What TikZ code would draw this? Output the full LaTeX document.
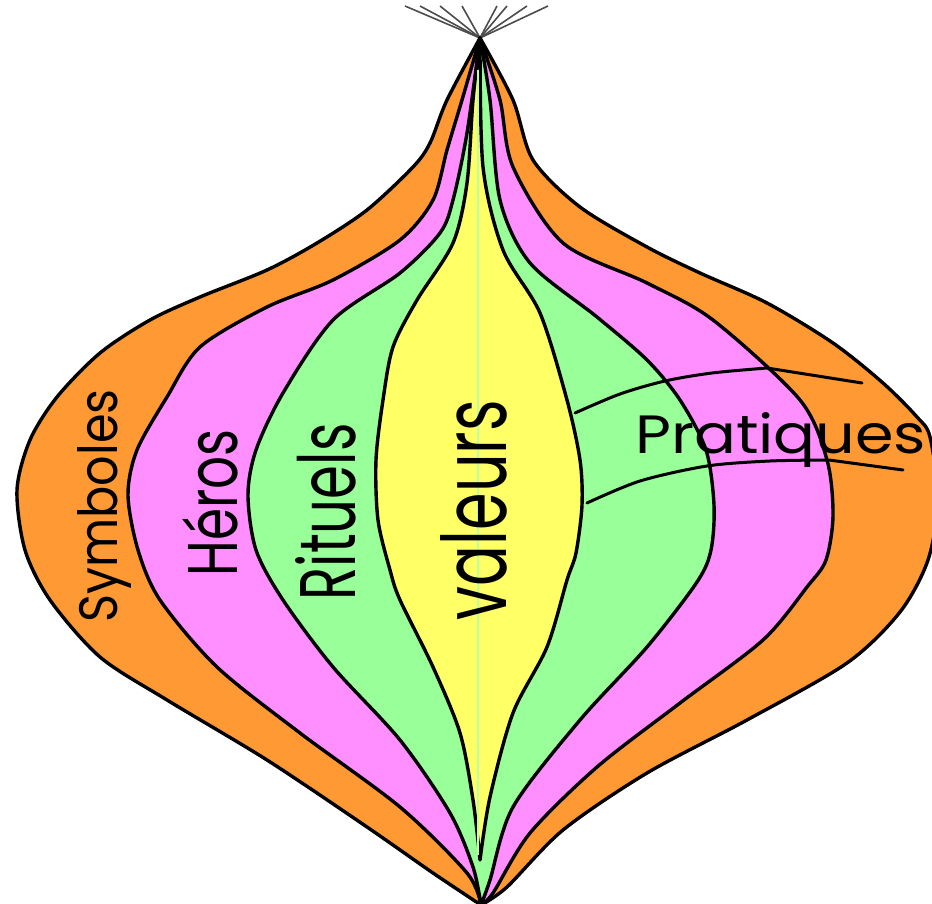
\documentclass[tikz,border=0pt]{standalone}
\usepackage{fontspec}
\setmainfont{Poppins}
\usepackage{graphicx}
\definecolor{symbolescol}{RGB}{255,153,51}
\definecolor{heroscol}{RGB}{255,143,255}
\definecolor{rituelscol}{RGB}{153,255,153}
\definecolor{valeurscol}{RGB}{255,255,102}
\definecolor{axiscol}{RGB}{190,255,165}

\begin{document}
\begin{tikzpicture}[
    x=1pt, y=-1pt,
    shell/.style={draw=black, line width=3.4pt, line join=round},
    fan/.style={black!70, line width=1.6pt},
    practice/.style={black, line width=3pt, line cap=round},
    ringtext/.style={inner sep=0pt, text=black}
]
\useasboundingbox (0,0) rectangle (932,904);
\clip (0,0) rectangle (932,904);
\coordinate (apex) at (480,38);
\coordinate (foot) at (481,905);

\foreach \x in {405,420,440,462,497,507,527,548}
    \draw[fan] (apex) -- (\x,6);

\filldraw[shell, fill=symbolescol]
    plot[smooth] coordinates {(apex) (447,100) (430,143) (413,167) (367,210) (317,243) (267,270) (200,297) (150,320) (100,353) (57,397) (30,440) (17,490) (25,550) (50,600) (100,657) (167,700) (267,760) (367,827) (433,873) (foot)}
    -- plot[smooth] coordinates {(foot) (507,887) (563,830) (647,773) (747,720) (847,663) (900,612) (928,560) (938,500) (930,437) (917,417) (883,383) (833,343) (767,303) (700,273) (647,247) (580,207) (533,160) (513,100) (apex)}
    -- cycle;

\filldraw[shell, fill=heroscol]
    plot[smooth] coordinates {(apex) (462,100) (447,150) (433,200) (400,240) (333,280) (267,307) (200,347) (167,397) (137,450) (128,495) (138,550) (160,600) (217,667) (300,733) (400,807) (467,873) (foot)}
    -- plot[smooth] coordinates {(foot) (493,893) (530,833) (597,767) (680,703) (763,640) (807,587) (826,560) (833,515) (827,460) (800,400) (713,320) (647,283) (563,243) (513,167) (500,100) (apex)}
    -- cycle;

\filldraw[shell, fill=rituelscol]
    plot[smooth] coordinates {(apex) (467,133) (453,200) (440,233) (400,273) (333,320) (283,393) (256,450) (248,495) (256,550) (283,600) (333,667) (400,740) (450,813) (473,867) (foot)}
    -- plot[smooth] coordinates {(foot) (490,880) (513,807) (580,720) (647,647) (697,582) (711,550) (714,505) (706,450) (680,400) (647,360) (597,317) (530,263) (500,200) (490,100) (apex)}
    -- cycle;

\filldraw[shell, fill=valeurscol]
    plot[smooth] coordinates {(apex) (473,100) (467,183) (453,243) (417,300) (393,347) (383,400) (376,460) (378,520) (390,570) (400,600) (433,667) (460,733) (473,800) (480,860)}
    -- plot[smooth] coordinates {(480,860) (490,797) (513,713) (547,647) (567,580) (576,553) (582,505) (580,460) (567,400) (540,313) (503,250) (483,167) (apex)}
    -- cycle;

\draw[axiscol, line width=1.5pt] (478,70) -- (478,855);

\draw[practice] plot[smooth] coordinates {(575,413) (620,394) (665,381) (712,373) (767,368)} -- (862,383);
\draw[practice] plot[smooth] coordinates {(587,503) (640,481) (707,466) (770,461) (829,460)} -- (903,470);

\node[ringtext, rotate=90, anchor=base] (symboles) at (117,506) {\resizebox{233pt}{40pt}{Symboles}};
\node[ringtext, rotate=90, anchor=base] (heros) at (237,503) {\resizebox{147pt}{55pt}{Héros}};
\node[ringtext, rotate=90, anchor=base] (rituels) at (355,512) {\resizebox{177pt}{60pt}{Rituels}};
\node[ringtext, rotate=90, anchor=base] (valeurs) at (506,510) {\resizebox{220pt}{66pt}{valeurs}};
\node[ringtext, anchor=base west] (pratiques) at (635,453) {\resizebox{291pt}{41pt}{Pratiques}};
\end{tikzpicture}
\end{document}
